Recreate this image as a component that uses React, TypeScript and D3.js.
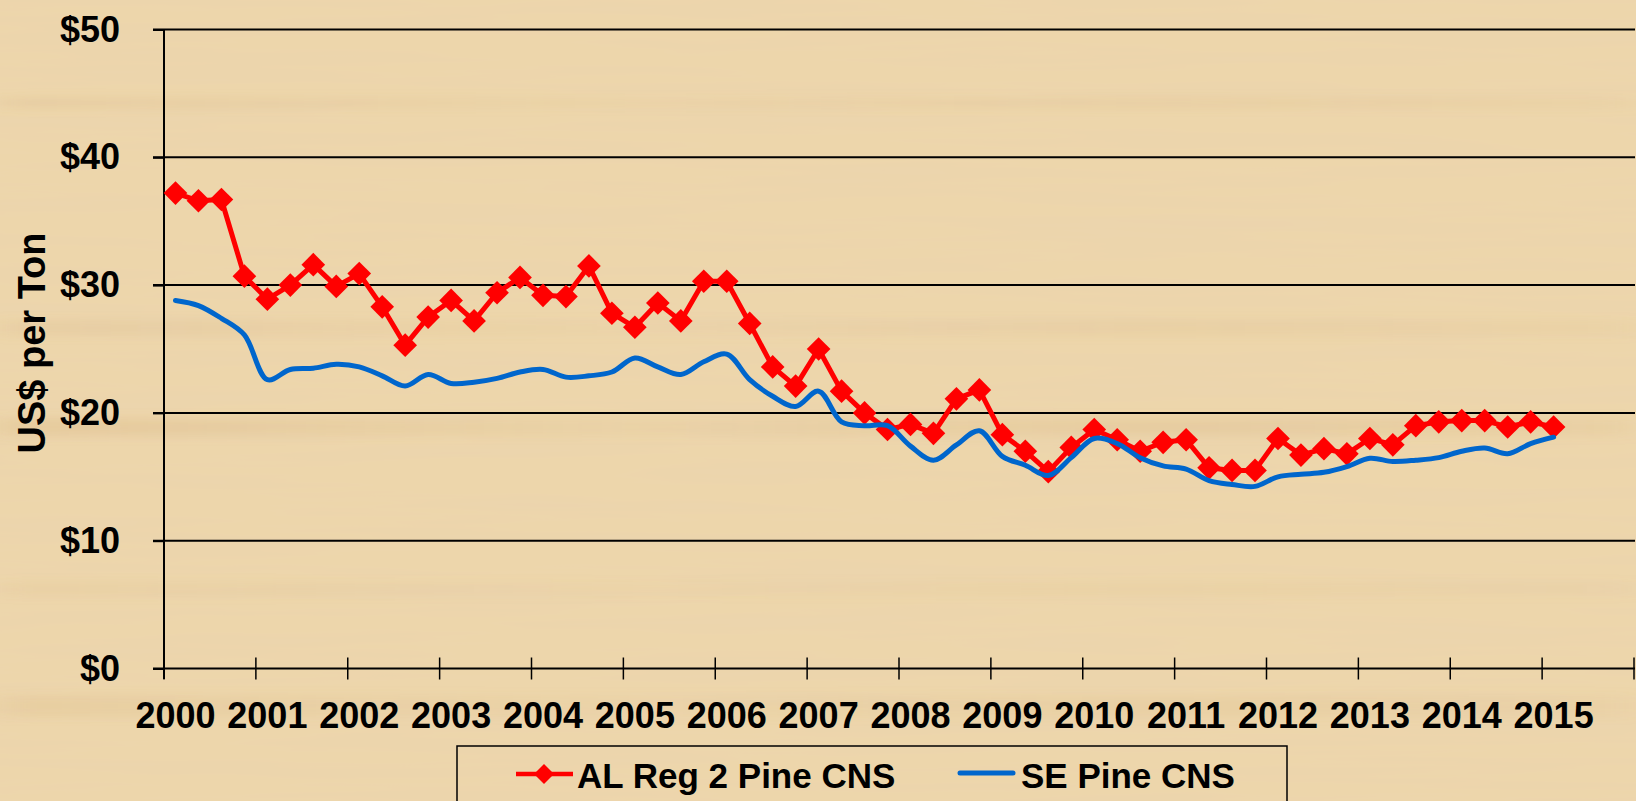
import * as d3 from 'd3';
import React, { useEffect, useRef } from 'react';

// quarterly prices, 2000 Q1 .. 2015 Q1 (US$ per ton)
const years = ['2000', '2001', '2002', '2003', '2004', '2005', '2006', '2007',
    '2008', '2009', '2010', '2011', '2012', '2013', '2014', '2015'];

const alReg2Pine = [
    37.2, 36.6, 36.7, 30.7,
    28.9, 30.0, 31.6, 29.9,
    30.9, 28.3, 25.3, 27.5,
    28.8, 27.2, 29.4, 30.6,
    29.2, 29.1, 31.5, 27.8,
    26.7, 28.6, 27.2, 30.3,
    30.3, 27.0, 23.6, 22.1,
    25.0, 21.7, 20.0, 18.7,
    19.1, 18.4, 21.1, 21.8,
    18.3, 17.0, 15.4, 17.3,
    18.7, 17.9, 17.0, 17.7,
    17.9, 15.7, 15.5, 15.5,
    18.0, 16.7, 17.2, 16.8,
    18.0, 17.5, 19.0, 19.3,
    19.4, 19.4, 18.9, 19.3,
    18.9,
];

const sePine = [
    28.8, 28.4, 27.4, 26.1,
    22.6, 23.4, 23.5, 23.8,
    23.6, 22.9, 22.1, 23.0,
    22.3, 22.4, 22.7, 23.2,
    23.4, 22.8, 22.9, 23.2,
    24.3, 23.6, 23.0, 24.0,
    24.6, 22.6, 21.3, 20.5,
    21.7, 19.3, 19.0, 19.0,
    17.4, 16.3, 17.5, 18.6,
    16.6, 15.9, 15.1, 16.5,
    18.0, 17.6, 16.5, 15.85,
    15.6, 14.7, 14.4, 14.25,
    15.0, 15.2, 15.35, 15.8,
    16.45, 16.2, 16.3, 16.5,
    17.0, 17.25, 16.8, 17.6,
    18.1,
];

const yTicks = [0, 10, 20, 30, 40, 50];
const seriesNames = ['AL Reg 2 Pine CNS', 'SE Pine CNS'];

const W = 1636;
const H = 801;
const FONT = '"Liberation Sans", Arial, Helvetica, sans-serif';

function App() {
    const ref = useRef(null);

    useEffect(() => {
        const svg = d3.select(ref.current);
        svg.selectAll('*').remove();

        const quarters = years.flatMap(yr => ['Q1', 'Q2', 'Q3', 'Q4'].map(q => yr + q));

        const x = d3.scaleBand()
            .domain(quarters)
            .range([164, 1634])
            .padding(0);
        const bw = x.bandwidth();
        const cx = i => x(quarters[i]) + bw / 2;

        const y = d3.scaleLinear()
            .domain([0, 50])
            .range([668.5, 29.5]);

        // wood-ish background
        const defs = svg.append('defs');
        const f = defs.append('filter').attr('id', 'grain')
            .attr('x', 0).attr('y', 0).attr('width', '100%').attr('height', '100%');
        f.append('feTurbulence')
            .attr('type', 'fractalNoise')
            .attr('baseFrequency', '0.003 0.06')
            .attr('numOctaves', 3)
            .attr('seed', 7);
        f.append('feColorMatrix')
            .attr('type', 'matrix')
            .attr('values', '0 0 0 0 0.82  0 0 0 0 0.64  0 0 0 0 0.44  0.7 0 0 0 -0.25');

        defs.append('filter').attr('id', 'soft')
            .attr('x', '-5%').attr('y', '-100%').attr('width', '110%').attr('height', '300%')
            .append('feGaussianBlur').attr('stdDeviation', '20 5');

        svg.append('rect').attr('width', W).attr('height', H).attr('fill', '#EDD6AB');
        svg.append('rect').attr('width', W).attr('height', H).attr('filter', 'url(#grain)');

        const streaks = svg.append('g').attr('filter', 'url(#soft)');
        const streak = (id, yy, h, op) => {
            const g = defs.append('linearGradient').attr('id', id);
            g.append('stop').attr('offset', '0%').attr('stop-color', '#C99E63').attr('stop-opacity', op);
            g.append('stop').attr('offset', '40%').attr('stop-color', '#C99E63').attr('stop-opacity', op * 0.35);
            g.append('stop').attr('offset', '70%').attr('stop-color', '#C99E63').attr('stop-opacity', op * 0.8);
            g.append('stop').attr('offset', '100%').attr('stop-color', '#C99E63').attr('stop-opacity', op * 0.5);
            streaks.append('rect').attr('x', 0).attr('y', yy).attr('width', W).attr('height', h)
                .attr('fill', `url(#${id})`);
        };
        streak('s1', 98, 10, 0.16);
        streak('s2', 320, 16, 0.13);
        streak('s3', 418, 18, 0.2);
        streak('s4', 582, 14, 0.1);
        streak('s5', 695, 22, 0.14);

        // gridlines
        svg.append('g')
            .selectAll('line')
            .data(yTicks)
            .enter().append('line')
            .attr('x1', 153).attr('x2', 1635)
            .attr('y1', d => y(d)).attr('y2', d => y(d))
            .attr('stroke', '#000').attr('stroke-width', 2);

        // y axis
        const yAxis = svg.append('g')
            .attr('transform', 'translate(164,0)')
            .call(d3.axisLeft(y).tickValues(yTicks).tickSize(11).tickSizeOuter(0)
                .tickPadding(33).tickFormat(d => `$${d}`));
        yAxis.select('.domain').remove();
        yAxis.selectAll('line').attr('stroke', '#000').attr('stroke-width', 2);
        yAxis.selectAll('text')
            .attr('font-family', FONT).attr('font-size', 36).attr('font-weight', 'bold')
            .attr('fill', '#000');

        svg.append('line')
            .attr('x1', 164).attr('x2', 164)
            .attr('y1', y(50)).attr('y2', 679)
            .attr('stroke', '#000').attr('stroke-width', 2);

        // x axis ticks at year boundaries
        const tickXs = years.map(yr => x(yr + 'Q1')).concat([x.range()[1]]);
        svg.append('g')
            .selectAll('line')
            .data(tickXs)
            .enter().append('line')
            .attr('x1', d => d).attr('x2', d => d)
            .attr('y1', y(0) - 11).attr('y2', y(0) + 11)
            .attr('stroke', '#000').attr('stroke-width', 1.5);

        svg.append('g')
            .selectAll('text')
            .data(years)
            .enter().append('text')
            .attr('x', d => x(d + 'Q1') + bw / 2)
            .attr('y', 728)
            .attr('text-anchor', 'middle')
            .attr('font-family', FONT).attr('font-size', 36).attr('font-weight', 'bold')
            .text(d => d);

        // y title
        svg.append('text')
            .attr('transform', 'translate(45,343) rotate(-90)')
            .attr('text-anchor', 'middle')
            .attr('font-family', FONT).attr('font-size', 38).attr('font-weight', 'bold')
            .text('US$ per Ton');

        // series
        const redLine = d3.line().x((d, i) => cx(i)).y(d => y(d));
        const blueLine = d3.line().x((d, i) => cx(i)).y(d => y(d))
            .curve(d3.curveCatmullRom.alpha(0.5));
        const diamond = d3.symbol(d3.symbolSquare, 280);

        svg.append('path')
            .datum(alReg2Pine)
            .attr('d', redLine)
            .attr('fill', 'none')
            .attr('stroke', '#FF0000')
            .attr('stroke-width', 5)
            .attr('stroke-linejoin', 'round');

        svg.append('g')
            .selectAll('path')
            .data(alReg2Pine)
            .enter().append('path')
            .attr('d', diamond)
            .attr('transform', (d, i) => `translate(${cx(i)},${y(d)}) rotate(45)`)
            .attr('fill', '#FF0000');

        svg.append('path')
            .datum(sePine)
            .attr('d', blueLine)
            .attr('fill', 'none')
            .attr('stroke', '#0066CC')
            .attr('stroke-width', 5)
            .attr('stroke-linejoin', 'round')
            .attr('stroke-linecap', 'round');

        // legend
        const lg = svg.append('g');
        lg.append('rect')
            .attr('x', 457).attr('y', 746).attr('width', 830).attr('height', 80)
            .attr('fill', 'none').attr('stroke', '#000').attr('stroke-width', 1.5);

        lg.append('line')
            .attr('x1', 516).attr('x2', 573).attr('y1', 774).attr('y2', 774)
            .attr('stroke', '#FF0000').attr('stroke-width', 4.5);
        lg.append('path')
            .attr('d', d3.symbol(d3.symbolSquare, 200)())
            .attr('transform', 'translate(544,774) rotate(45)')
            .attr('fill', '#FF0000');
        lg.append('text')
            .attr('x', 577).attr('y', 788)
            .attr('font-family', FONT).attr('font-size', 35).attr('font-weight', 'bold')
            .text(seriesNames[0]);

        lg.append('line')
            .attr('x1', 960).attr('x2', 1013).attr('y1', 773).attr('y2', 773)
            .attr('stroke', '#0066CC').attr('stroke-width', 5).attr('stroke-linecap', 'round');
        lg.append('text')
            .attr('x', 1021).attr('y', 788)
            .attr('font-family', FONT).attr('font-size', 35).attr('font-weight', 'bold')
            .text(seriesNames[1]);
    }, []);

    return (
        <svg ref={ref} width={W} height={H}
            style={{ position: 'absolute', left: 0, top: 0, display: 'block' }} />
    );
}

export default App;
